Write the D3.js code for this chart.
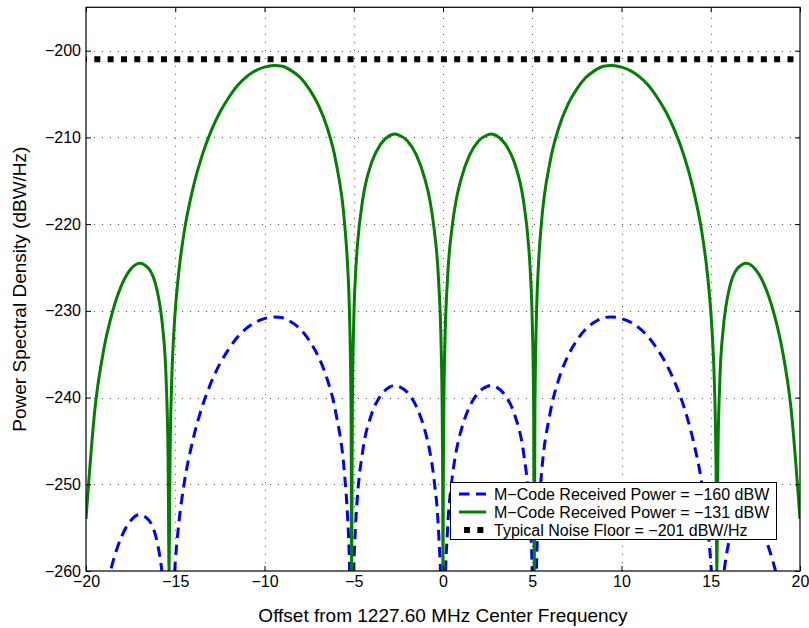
<!DOCTYPE html>
<html>
<head>
<meta charset="utf-8">
<script src="https://cdn.jsdelivr.net/npm/d3@7"></script>
<style>
  html, body { margin: 0; padding: 0; background: #ffffff; }
  svg { display: block; font-family: "Liberation Sans", Arial, Helvetica, sans-serif; }
</style>
</head>
<body>
<svg id="chart" width="809" height="628"></svg>
<script>
// ---- data ----
const freqMHz = [
  -20, -19.5, -19, -18.5, -18, -17.5, -17, -16.5, -16, -15.85, -15.7, -15.5, -15.4, -15.345, -15.3, -15.2, -15.1, -15,
  -14.8, -14.5, -14, -13.5, -13, -12.5, -12, -11.5, -11, -10.5, -10, -9.5, -9.4, -9, -8.5, -8, -7.5, -7, -6.5, -6,
  -5.5, -5.35, -5.25, -5.15, -5.115, -5.08, -5, -4.9, -4.8, -4.5, -4, -3.5, -3, -2.7, -2.5, -2, -1.5, -1, -0.75,
  -0.5, -0.25, -0.1, -0.05, -0.02,
  0,
  0.02, 0.05, 0.1, 0.25, 0.5, 0.75, 1, 1.5, 2, 2.5, 2.7, 3, 3.5, 4, 4.5, 4.8, 4.9, 5, 5.08, 5.115, 5.15, 5.25, 5.35,
  5.5, 6, 6.5, 7, 7.5, 8, 8.5, 9, 9.4, 9.5, 10, 10.5, 11, 11.5, 12, 12.5, 13, 13.5, 14, 14.5, 14.8, 15, 15.1, 15.2,
  15.3, 15.345, 15.4, 15.5, 15.7, 15.85, 16, 16.5, 17, 17.5, 18, 18.5, 19, 19.5, 20
];
const psd131 = [
  -254.0, -241.3, -234.4, -230.0, -227.0, -225.2, -224.5, -225.1, -227.8, -229.5, -232.0, -238.5, -247.2, -260, -248.6, -238.1, -233.3, -230.0,
  -225.5, -220.9, -215.8, -212.1, -209.3, -207.1, -205.4, -204.0, -203.0, -202.3, -201.9, -201.7, -201.7, -201.8, -202.3, -203.1, -204.4, -206.2, -208.8, -212.8,
  -220.2, -224.6, -229.5, -241.4, -260, -241.4, -231.2, -225.8, -222.6, -217.2, -212.9, -210.8, -209.8, -209.6, -209.7, -210.4, -212.0, -214.9, -217.1,
  -220.5, -226.4, -234.4, -240.4, -248.4,
  -260,
  -248.4, -240.4, -234.4, -226.4, -220.5, -217.1, -214.9, -212.0, -210.4, -209.7, -209.6, -209.8, -210.8, -212.9, -217.2, -222.6, -225.8, -231.2, -241.4, -260, -241.4, -229.5, -224.6,
  -220.2, -212.8, -208.8, -206.2, -204.4, -203.1, -202.3, -201.8, -201.7, -201.7, -201.9, -202.3, -203.0, -204.0, -205.4, -207.1, -209.3, -212.1, -215.8, -220.9, -225.5, -230.0, -233.3, -238.1,
  -248.6, -260, -247.2, -238.5, -232.0, -229.5, -227.8, -225.1, -224.5, -225.2, -227.0, -230.0, -234.4, -241.3, -254.0
];
const psd160 = [
  -283.0, -270.3, -263.4, -259.0, -256.0, -254.2, -253.5, -254.1, -256.8, -258.5, -261.0, -267.5, -276.2, -289, -277.6, -267.1, -262.3, -259.0,
  -254.5, -249.9, -244.8, -241.1, -238.3, -236.1, -234.4, -233.0, -232.0, -231.3, -230.9, -230.7, -230.7, -230.8, -231.3, -232.1, -233.4, -235.2, -237.8, -241.8,
  -249.2, -253.6, -258.5, -270.4, -289, -270.4, -260.2, -254.8, -251.6, -246.2, -241.9, -239.8, -238.8, -238.6, -238.7, -239.4, -241.0, -243.9, -246.1,
  -249.5, -255.4, -263.4, -269.4, -277.4,
  -289,
  -277.4, -269.4, -263.4, -255.4, -249.5, -246.1, -243.9, -241.0, -239.4, -238.7, -238.6, -238.8, -239.8, -241.9, -246.2, -251.6, -254.8, -260.2, -270.4, -289, -270.4, -258.5, -253.6,
  -249.2, -241.8, -237.8, -235.2, -233.4, -232.1, -231.3, -230.8, -230.7, -230.7, -230.9, -231.3, -232.0, -233.0, -234.4, -236.1, -238.3, -241.1, -244.8, -249.9, -254.5, -259.0, -262.3, -267.1,
  -277.6, -289, -276.2, -267.5, -261.0, -258.5, -256.8, -254.1, -253.5, -254.2, -256.0, -259.0, -263.4, -270.3, -283.0
];
const noiseFloor = -201;
const noiseX = [-20, 20];
const xTicks = [-20, -15, -10, -5, 0, 5, 10, 15, 20];
const yTicks = [-260, -250, -240, -230, -220, -210, -200];
const xDomain = [-20, 20];
const yDomain = [-260, -195];
const seriesLabels = [
  "M\u2212Code Received Power = \u2212160 dBW",
  "M\u2212Code Received Power = \u2212131 dBW",
  "Typical Noise Floor = \u2212201 dBW/Hz"
];
const xLabel = "Offset from 1227.60 MHz Center Frequency";
const yLabel = "Power Spectral Density (dBW/Hz)";

// ---- layout ----
const L = 86, R = 800, T = 7.3, B = 571;
const svg = d3.select("#chart");
const x = d3.scaleLinear().domain(xDomain).range([L, R]);
const y = d3.scaleLinear().domain(yDomain).range([B, T]);

svg.append("defs").append("clipPath").attr("id", "plotclip")
  .append("rect").attr("x", L).attr("y", T).attr("width", R - L).attr("height", B - T);

// grid
const grid = svg.append("g").attr("stroke", "#555").attr("stroke-width", 1)
  .attr("stroke-dasharray", "1,7").attr("fill", "none");
grid.selectAll(".gx").data(xTicks.slice(1, -1)).join("line")
  .attr("x1", d => Math.round(x(d)) + 0.5).attr("x2", d => Math.round(x(d)) + 0.5)
  .attr("y1", B).attr("y2", T);
grid.selectAll(".gy").data(yTicks.slice(1)).join("line")
  .attr("y1", d => Math.round(y(d)) + 0.5).attr("y2", d => Math.round(y(d)) + 0.5)
  .attr("x1", L).attr("x2", R);

// curves
const plot = svg.append("g").attr("clip-path", "url(#plotclip)");
const pts = vals => freqMHz.map((f, i) => [f, vals[i]]);
const line = d3.line().x(d => x(d[0])).y(d => y(d[1])).curve(d3.curveMonotoneX);

plot.append("path").datum(pts(psd160)).attr("d", line)
  .attr("fill", "none").attr("stroke", "#0000ff").attr("stroke-width", 3)
  .attr("stroke-dasharray", "10.5,6.5");
plot.append("path").datum(pts(psd131)).attr("d", line)
  .attr("fill", "none").attr("stroke", "#008000").attr("stroke-width", 3);
plot.append("line")
  .attr("x1", x(noiseX[0])).attr("x2", x(noiseX[1]))
  .attr("y1", y(noiseFloor)).attr("y2", y(noiseFloor))
  .attr("stroke", "#000").attr("stroke-width", 6)
  .attr("stroke-dasharray", "6,7.33").attr("stroke-dashoffset", -8.3);

// axes
const fontPx = "16px";
const xAxis = svg.append("g").attr("transform", `translate(0,${B})`)
  .call(d3.axisBottom(x).tickValues(xTicks).tickSizeInner(-5).tickSizeOuter(0).tickPadding(5));
const yAxis = svg.append("g").attr("transform", `translate(${L},0)`)
  .call(d3.axisLeft(y).tickValues(yTicks).tickSizeInner(-5).tickSizeOuter(0).tickPadding(5));
const xTop = svg.append("g").attr("transform", `translate(0,${T})`)
  .call(d3.axisTop(x).tickValues(xTicks).tickSizeInner(-5).tickSizeOuter(0).tickFormat(""));
const yRight = svg.append("g").attr("transform", `translate(${R},0)`)
  .call(d3.axisRight(y).tickValues(yTicks).tickSizeInner(-5).tickSizeOuter(0).tickFormat(""));
[xAxis, yAxis, xTop, yRight].forEach(g => {
  g.select(".domain").remove();
  g.selectAll(".tick line").attr("stroke", "#000");
  g.selectAll("text").attr("font-size", fontPx).attr("fill", "#000")
    .attr("font-family", '"Liberation Sans", Arial, sans-serif');
});
svg.append("rect").attr("x", L).attr("y", T).attr("width", R - L).attr("height", B - T)
  .attr("fill", "none").attr("stroke", "#000").attr("stroke-width", 1.2);

// axis labels
svg.append("text").attr("x", (L + R) / 2).attr("y", 622).attr("text-anchor", "middle")
  .attr("font-size", "19px").attr("fill", "#000").text(xLabel);
svg.append("text").attr("transform", `translate(26,${(T + B) / 2}) rotate(-90)`)
  .attr("text-anchor", "middle").attr("font-size", "19px").attr("fill", "#000").text(yLabel);

// legend
const lg = svg.append("g");
lg.append("rect").attr("x", 450.5).attr("y", 482.5).attr("width", 326).attr("height", 57)
  .attr("fill", "#fff").attr("stroke", "#000").attr("stroke-width", 1);
const rows = [494, 512, 530];
const styles = [
  {stroke: "#0000ff", w: 3, dash: "10.5,6.5", off: 0},
  {stroke: "#008000", w: 3, dash: null, off: 0},
  {stroke: "#000", w: 6, dash: "6,7.33", off: -5}
];
seriesLabels.forEach((lab, i) => {
  const s = styles[i];
  const ln = lg.append("line").attr("x1", 459).attr("x2", 486).attr("y1", rows[i]).attr("y2", rows[i])
    .attr("stroke", s.stroke).attr("stroke-width", s.w);
  if (s.dash) ln.attr("stroke-dasharray", s.dash).attr("stroke-dashoffset", s.off);
  lg.append("text").attr("x", 494).attr("y", rows[i]).attr("dy", "0.36em")
    .attr("font-size", "16px").attr("fill", "#000").text(lab);
});
</script>
</body>
</html>
